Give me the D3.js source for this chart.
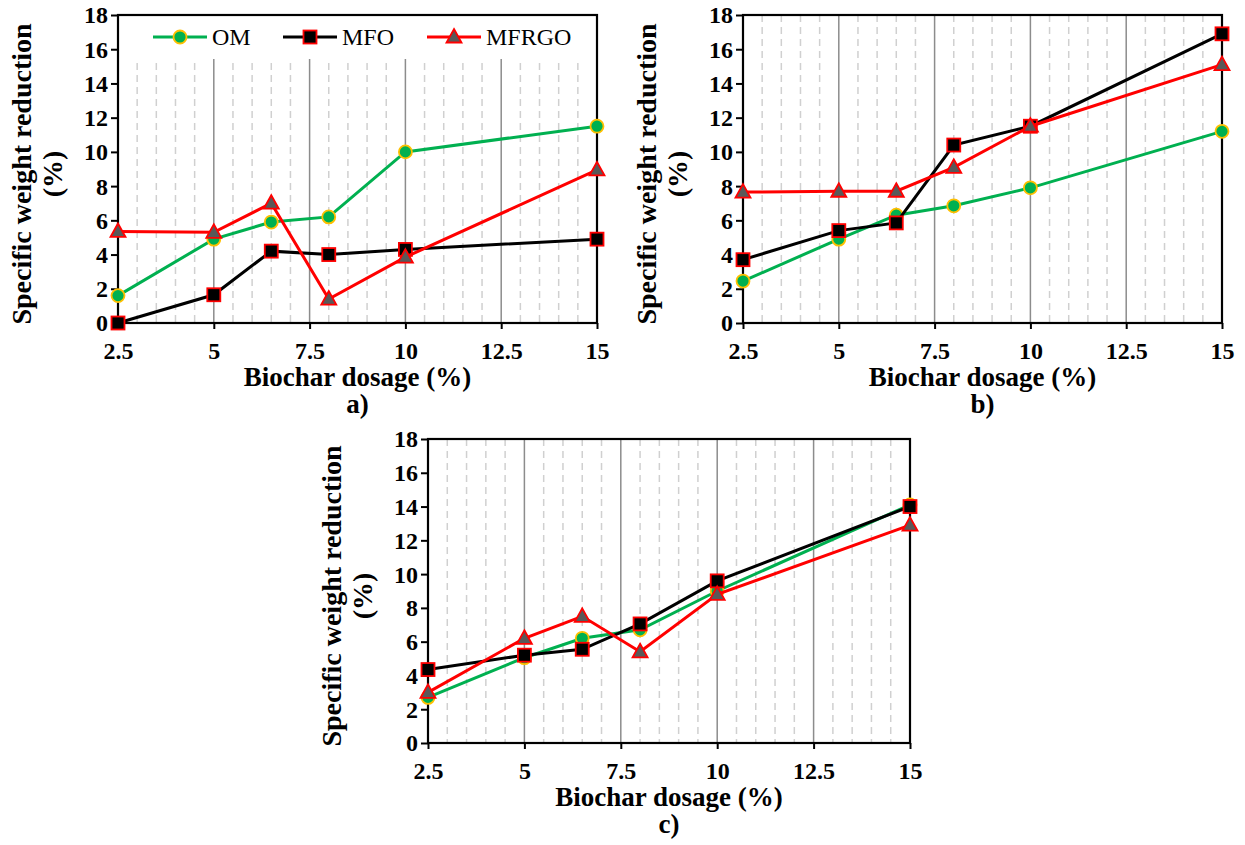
<!DOCTYPE html>
<html>
<head>
<meta charset="utf-8">
<script src="https://cdn.jsdelivr.net/npm/d3@7"></script>
<style>
  body { margin: 0; background: #fff; }
</style>
</head>
<body>
<div id="container"></div>
<script>
// biochar dosage (%) at which each sample was measured
let dosage = [2.5, 5, 6.5, 8, 10, 15];
let xTicks = [2.5, 5, 7.5, 10, 12.5, 15];
let yTicks = [0, 2, 4, 6, 8, 10, 12, 14, 16, 18];
let seriesNames = ["OM", "MFO", "MFRGO"];

// panel a)
let omA    = [1.6, 4.9, 5.9, 6.2, 10.0, 11.5];
let mfoA   = [0.0, 1.65, 4.2, 4.0, 4.3, 4.9];
let mfrgoA = [5.35, 5.3, 7.0, 1.4, 3.85, 8.95];
// panel b)
let omB    = [2.45, 4.9, 6.3, 6.85, 7.9, 11.2];
let mfoB   = [3.7, 5.4, 5.85, 10.4, 11.5, 16.9];
let mfrgoB = [7.65, 7.7, 7.7, 9.1, 11.5, 15.1];
// panel c)
let omC    = [2.7, 5.05, 6.2, 6.7, 9.0, 14.1];
let mfoC   = [4.35, 5.2, 5.55, 7.05, 9.6, 14.0];
let mfrgoC = [3.0, 6.2, 7.5, 5.4, 8.8, 12.9];

let w = 1245;
let h = 845;
let serif = '"Liberation Serif", "Times New Roman", serif';
let viz = d3.select("#container")
  .append("svg")
    .attr("width", w)
    .attr("height", h)
;

let styles = {
  OM:    { line: "#00b050", fill: "#00b050", stroke: "#ffc000", shape: "circle" },
  MFO:   { line: "#000000", fill: "#000000", stroke: "#ff0000", shape: "square" },
  MFRGO: { line: "#ff0000", fill: "#595959", stroke: "#ff0000", shape: "triangle" }
};

function drawMarker(g, shape, st) {
  if (shape == "circle") {
    g.append("circle").attr("r", 6.5)
      .attr("fill", st.fill).attr("stroke", st.stroke).attr("stroke-width", 1.8);
  } else if (shape == "square") {
    g.append("rect").attr("x", -6.5).attr("y", -6.5).attr("width", 13).attr("height", 13)
      .attr("fill", st.fill).attr("stroke", st.stroke).attr("stroke-width", 1.8);
  } else {
    g.append("path").attr("d", "M0,-8 L7.5,5.5 L-7.5,5.5 Z")
      .attr("fill", st.fill).attr("stroke", st.stroke).attr("stroke-width", 1.8)
      .attr("stroke-linejoin", "miter");
  }
}

function drawPanel(left, top, pw, ph, series, label, withLegend) {
  let xScale = d3.scaleLinear().domain([2.5, 15]).range([left, left + pw]);
  let yScale = d3.scaleLinear().domain([0, 18]).range([top + ph, top]);
  let panel = viz.append("g").attr("class", "panel");

  // minor dashed grid every 0.5
  let minor = d3.range(6, 30).filter(function(i){ return i % 5 != 0; }).map(function(i){ return i / 2; });
  panel.selectAll(".minor").data(minor).enter()
    .append("line")
      .attr("class", "minor")
      .attr("x1", function(d){ return xScale(d); })
      .attr("x2", function(d){ return xScale(d); })
      .attr("y1", top)
      .attr("y2", top + ph)
      .attr("stroke", "#d0d0d0")
      .attr("stroke-width", 1.5)
      .attr("stroke-dasharray", "7,5")
  ;
  // major solid grid
  panel.selectAll(".major").data(xTicks.slice(1, -1)).enter()
    .append("line")
      .attr("class", "major")
      .attr("x1", function(d){ return xScale(d); })
      .attr("x2", function(d){ return xScale(d); })
      .attr("y1", top)
      .attr("y2", top + ph)
      .attr("stroke", "#8c8c8c")
      .attr("stroke-width", 1.5)
  ;

  if (withLegend) {
    panel.append("rect")
      .attr("x", left + 1).attr("y", top + 1)
      .attr("width", pw - 2).attr("height", 43)
      .attr("fill", "#fff");
  }

  // axes
  let xAxis = d3.axisBottom(xScale).tickValues(xTicks).tickSize(6).tickSizeOuter(0).tickFormat(d3.format(""));
  let xAxisGroup = panel.append("g")
      .attr("class", "xaxisgroup")
      .attr("transform", "translate(0," + (top + ph) + ")")
  ;
  xAxisGroup.call(xAxis);
  let yAxis = d3.axisLeft(yScale).tickValues(yTicks).tickSize(7).tickSizeOuter(0);
  let yAxisGroup = panel.append("g")
      .attr("class", "yaxisgroup")
      .attr("transform", "translate(" + left + ",0)")
  ;
  yAxisGroup.call(yAxis);

  [xAxisGroup, yAxisGroup].forEach(function(ax){
    ax.attr("font-family", null).attr("font-size", null);
    ax.select(".domain").remove();
    ax.selectAll("line").attr("stroke", "#000").attr("stroke-width", 2);
    ax.selectAll("text")
      .attr("fill", "#000")
      .style("font-family", serif)
      .style("font-size", "24px")
      .style("font-weight", "bold");
  });
  xAxisGroup.selectAll("text").attr("dy", null).attr("y", 36);
  yAxisGroup.selectAll("text").attr("x", -10).attr("dy", "0.33em");

  // frame
  panel.append("rect")
    .attr("x", left).attr("y", top)
    .attr("width", pw).attr("height", ph)
    .attr("fill", "none")
    .attr("stroke", "#000")
    .attr("stroke-width", 2.2);

  // series
  let lineMaker = d3.line()
    .x(function(d, i){ return xScale(dosage[i]); })
    .y(function(d){ return yScale(d); })
  ;
  series.forEach(function(vals, k){
    let st = styles[seriesNames[k]];
    panel.append("path")
      .attr("d", lineMaker(vals))
      .attr("fill", "none")
      .attr("stroke", st.line)
      .attr("stroke-width", 3);
    panel.selectAll(".pt" + k).data(vals).enter()
      .append("g")
        .attr("class", "pt" + k)
        .attr("transform", function(d, i){ return "translate(" + xScale(dosage[i]) + "," + yScale(d) + ")"; })
        .each(function(){ drawMarker(d3.select(this), st.shape, st); })
    ;
  });

  // axis titles
  let cx = left + pw / 2;
  panel.append("text")
    .attr("x", cx).attr("y", top + ph + 63)
    .attr("text-anchor", "middle")
    .style("font-family", serif)
    .style("font-size", "27px").style("font-weight", "bold")
    .text("Biochar dosage (%)");
  panel.append("text")
    .attr("x", cx).attr("y", top + ph + 90)
    .attr("text-anchor", "middle")
    .style("font-family", serif)
    .style("font-size", "27px").style("font-weight", "bold")
    .text(label);

  let cy = top + ph / 2 + 5;
  let yTitle = panel.append("text")
    .attr("transform", "translate(" + (left - 87) + "," + cy + ") rotate(-90)")
    .attr("text-anchor", "middle")
    .style("font-family", serif)
    .style("font-size", "28px").style("font-weight", "bold");
  yTitle.append("tspan").attr("x", 0).attr("y", 0).text("Specific weight reduction");
  yTitle.append("tspan").attr("x", 0).attr("y", 31).text("(%)");

  if (withLegend) {
    let legendX = [153, 283, 427];
    let ly = top + 22;
    seriesNames.forEach(function(name, k){
      let st = styles[name];
      let lg = panel.append("g").attr("transform", "translate(" + legendX[k] + "," + ly + ")");
      lg.append("line").attr("x1", 0).attr("x2", 54).attr("y1", 0).attr("y2", 0)
        .attr("stroke", st.line).attr("stroke-width", 3);
      let m = lg.append("g").attr("transform", "translate(27,0)");
      drawMarker(m, st.shape, st);
      lg.append("text").attr("x", 59).attr("y", 8)
        .style("font-family", serif)
        .style("font-size", "24px")
        .text(name);
    });
  }
}

drawPanel(118, 15, 479, 308, [omA, mfoA, mfrgoA], "a)", true);
drawPanel(743, 15, 479, 308, [omB, mfoB, mfrgoB], "b)", false);
drawPanel(428, 439, 482, 304, [omC, mfoC, mfrgoC], "c)", false);
</script>
</body>
</html>
